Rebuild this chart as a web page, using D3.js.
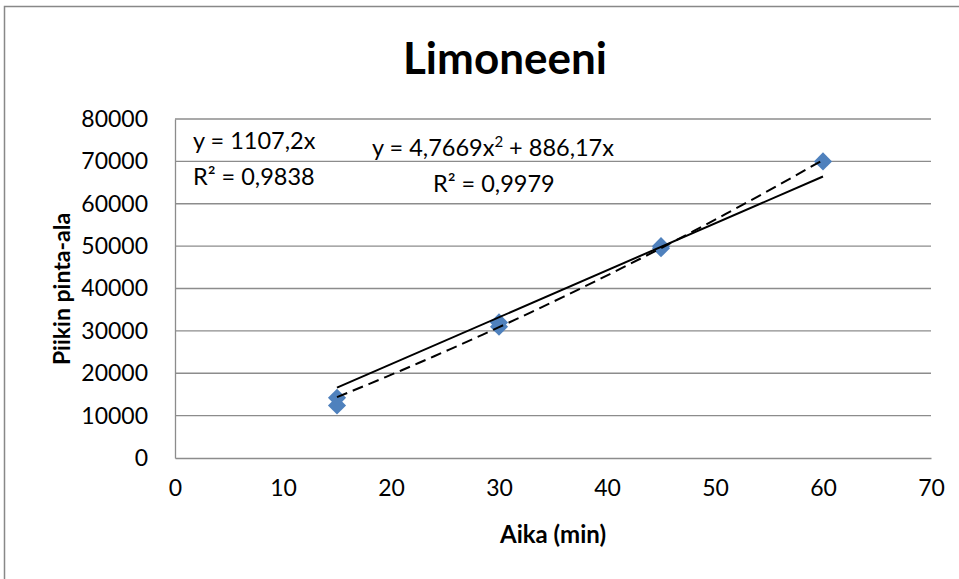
<!DOCTYPE html>
<html>
<head>
<meta charset="utf-8">
<script src="https://cdn.jsdelivr.net/npm/d3@7"></script>
<style>
  body { margin: 0; background: #fff; }
  svg { font-family: Lato, "Open Sans", sans-serif; }
</style>
</head>
<body>
<div id="chart"></div>
<script>
// data
const aika = [15, 15, 30, 30, 45, 45, 60];
const pintaAla = [12400, 14200, 31000, 32000, 49500, 50000, 70000];
const xTicks = [0, 10, 20, 30, 40, 50, 60, 70];
const yTicks = [0, 10000, 20000, 30000, 40000, 50000, 60000, 70000, 80000];
// trendline coefficients as printed on the chart
const linSlope = 1107.2;
const polyA = 4.7669, polyB = 886.17;
const trendX = d3.range(15, 60.01, 1.5);

const W = 959, H = 579;
const margin = {top: 119, right: 28, bottom: 121, left: 175};
const width = W - margin.left - margin.right,
      height = H - margin.top - margin.bottom;

const svg = d3.select("#chart")
  .append("svg")
  .attr("width", W)
  .attr("height", H);

// outer chart frame (only top and left show)
svg.append("path")
  .attr("d", `M4.5,${H} V6.5 H${W}`)
  .attr("fill", "none")
  .attr("stroke", "#888")
  .attr("stroke-width", 1.5);

const g = svg.append("g")
  .attr("transform", `translate(${margin.left}, ${margin.top})`);

const x = d3.scaleLinear().domain([0, 70]).range([0, width]);
const y = d3.scaleLinear().domain([0, 80000]).range([height, 0]);

// gridlines
g.selectAll(".grid")
  .data(yTicks.slice(1))
  .enter()
  .append("line")
  .attr("x1", 0)
  .attr("x2", width)
  .attr("y1", d => y(d))
  .attr("y2", d => y(d))
  .attr("stroke", "#8c8c8c")
  .attr("stroke-width", 1.3);

const xAxis = g.append("g")
  .attr("transform", `translate(0, ${height})`)
  .call(d3.axisBottom(x).tickValues(xTicks).tickSize(0).tickPadding(22));

const yAxis = g.append("g")
  .call(d3.axisLeft(y).tickValues(yTicks).tickSize(0).tickPadding(27).tickFormat(d3.format("d")));

[xAxis, yAxis].forEach(function(a) {
  a.select(".domain").attr("stroke", "#8c8c8c").attr("stroke-width", 1.3);
  a.selectAll("text").attr("font-size", 23).attr("fill", "#000")
    .attr("font-family", "Lato, 'Open Sans', sans-serif");
});

// markers (under the trendlines)
g.selectAll(".pt")
  .data(aika)
  .enter()
  .append("path")
  .attr("d", d3.symbol(d3.symbolDiamond2, 210))
  .attr("transform", (d, i) => `translate(${x(d)}, ${y(pintaAla[i])})`)
  .attr("fill", "#4f81bd");

// linear trendline
g.append("line")
  .attr("x1", x(15)).attr("y1", y(linSlope * 15))
  .attr("x2", x(60)).attr("y2", y(linSlope * 60))
  .attr("stroke", "#000")
  .attr("stroke-width", 2);

// polynomial trendline
const poly = d3.line()
  .x(d => x(d))
  .y(d => y(polyA * d * d + polyB * d));

g.append("path")
  .datum(trendX)
  .attr("d", poly)
  .attr("fill", "none")
  .attr("stroke", "#000")
  .attr("stroke-width", 2)
  .attr("stroke-dasharray", "11,6");

// title and axis titles
svg.append("text")
  .attr("x", 505).attr("y", 74)
  .attr("text-anchor", "middle")
  .attr("font-size", 44)
  .attr("font-weight", "bold")
  .text("Limoneeni");

svg.append("text")
  .attr("x", 553).attr("y", 543)
  .attr("text-anchor", "middle")
  .attr("font-size", 24)
  .attr("font-weight", "bold")
  .text("Aika (min)");

svg.append("text")
  .attr("transform", "translate(70, 289) rotate(-90)")
  .attr("text-anchor", "middle")
  .attr("font-size", 23)
  .attr("font-weight", "bold")
  .text("Piikin pinta-ala");

// trendline labels
const eq = svg.append("g").attr("font-size", 23.5);
eq.append("text").attr("x", 193).attr("y", 149).text("y = 1107,2x");
eq.append("text").attr("x", 193).attr("y", 185).text("R² = 0,9838");
const q = eq.append("text").attr("x", 372).attr("y", 156);
q.append("tspan").text("y = 4,7669x");
q.append("tspan").attr("dy", -9).attr("font-size", 15).text("2");
q.append("tspan").attr("dy", 9).text(" + 886,17x");
eq.append("text").attr("x", 433).attr("y", 192).text("R² = 0,9979");
</script>
</body>
</html>
